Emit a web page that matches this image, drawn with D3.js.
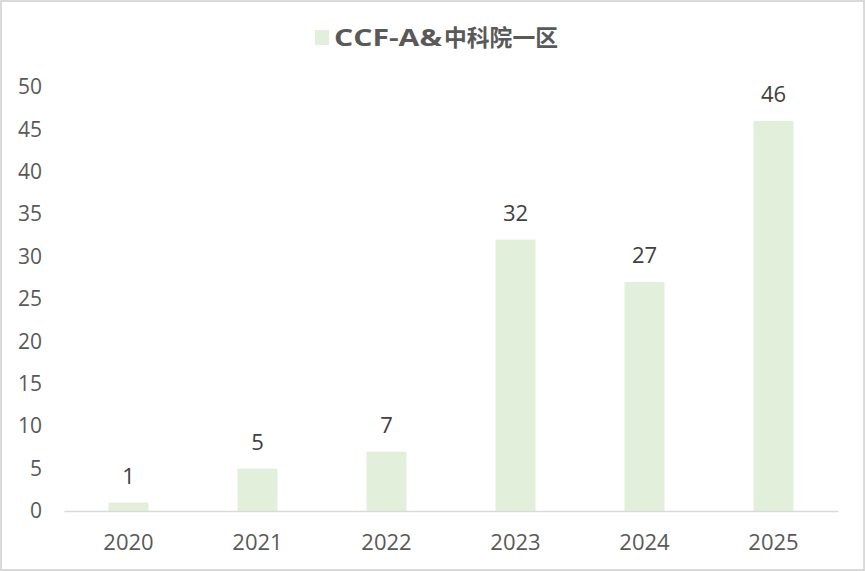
<!DOCTYPE html>
<html><head><meta charset="utf-8">
<script src="https://cdn.jsdelivr.net/npm/d3@7"></script>
<style>
html,body{margin:0;padding:0;background:#fff;}
svg{display:block;}
</style></head>
<body>
<script>
const categories = ["2020","2021","2022","2023","2024","2025"];
const values = [1,5,7,32,27,46];
const yTicks = [0,5,10,15,20,25,30,35,40,45,50];
const seriesLatin = "CCF-A&";
const seriesCJK = "中科院一区";

const W = 865, H = 571;
const barColor = "#e2efda";
const textColor = "#595959";
const font = "'Open Sans','Noto Sans CJK SC',sans-serif";

const svg = d3.select("body").append("svg").attr("width", W).attr("height", H);
svg.append("rect").attr("x",1).attr("y",1).attr("width",W-2).attr("height",H-2)
  .attr("fill","#fff").attr("stroke","#d9d9d9").attr("stroke-width",2);

const x = d3.scaleBand().domain(categories).range([64, 838]).paddingInner(0.69).paddingOuter(0.345);
const y = d3.scaleLinear().domain([0,50]).range([511, 87]);

// y axis labels
const yAxis = d3.axisLeft(y).tickValues(yTicks).tickSize(0).tickPadding(0);
const gy = svg.append("g").attr("transform","translate(42,0)").call(yAxis);
gy.select(".domain").remove();
gy.selectAll("text").attr("fill",textColor).style("font-family",font).style("font-size","21px");

// bars
svg.append("g").selectAll("rect").data(values).join("rect")
  .attr("x",(d,i)=>x(categories[i]))
  .attr("y",d=>y(d))
  .attr("width",x.bandwidth())
  .attr("height",d=>y(0)-y(d))
  .attr("fill",barColor);

// x axis
const xAxis = d3.axisBottom(x).tickSize(0).tickPadding(0);
const gx = svg.append("g").attr("transform",`translate(0,${y(0)})`).call(xAxis);
gx.select(".domain").attr("stroke","#d9d9d9").attr("stroke-width",1.3);
gx.selectAll("text").attr("fill",textColor).attr("y",39).attr("dy",null)
  .style("font-family",font).style("font-size","22px");

// data labels
svg.append("g").selectAll("text").data(values).join("text")
  .attr("x",(d,i)=>x(categories[i])+x.bandwidth()/2)
  .attr("y",d=>y(d)-19)
  .attr("text-anchor","middle")
  .attr("fill","#404040")
  .style("font-family",font).style("font-size","22px")
  .text(d=>d);

// legend
const lg = svg.append("g");
lg.append("rect").attr("x",315).attr("y",30).attr("width",14).attr("height",15).attr("fill",barColor);
lg.append("text").attr("x",334).attr("y",46).attr("fill",textColor)
  .attr("textLength",108).attr("lengthAdjust","spacingAndGlyphs")
  .style("font-family",font).style("font-size","24px").style("font-weight","bold")
  .text(seriesLatin);
lg.append("text").attr("x",444).attr("y",46).attr("fill",textColor)
  .attr("textLength",114).attr("lengthAdjust","spacingAndGlyphs")
  .style("font-family","'Noto Sans CJK SC',sans-serif").style("font-size","23px").style("font-weight","bold")
  .text(seriesCJK);
</script>
</body></html>
